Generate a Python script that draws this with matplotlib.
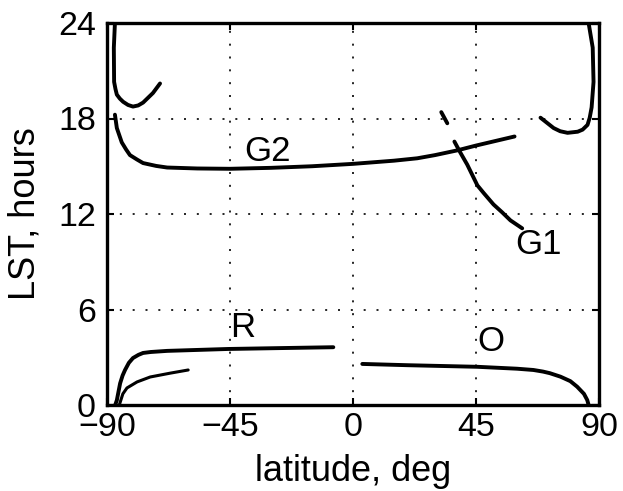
import matplotlib
matplotlib.use("Agg")
import matplotlib.pyplot as plt

plt.rcParams['font.family'] = ['Liberation Sans', 'DejaVu Sans']

# ---- data ----
g2_lat = [-87.1, -86.4, -85.6, -84.6, -83.0, -81.6, -79.0, -76.8, -72.0, -68, -57, -45, -30, -15, 0, 15, 23.5, 30, 38.2, 45, 59.1]
g2_lst = [18.24, 17.4, 17.0, 16.5, 16.05, 15.7, 15.42, 15.2, 15.02, 14.92, 14.86, 14.84, 14.9, 15.0, 15.15, 15.35, 15.5, 15.7, 16.0, 16.3, 16.87]

g1a_lat = [32.3, 34.5]
g1a_lst = [18.4, 17.7]
g1_lat = [37.1, 39.3, 41.8, 45.5, 47.9, 51.4, 54.6, 57.6, 61.9]
g1_lst = [16.55, 15.85, 15.1, 13.8, 13.3, 12.6, 12.1, 11.6, 11.1]

ul_lat = [-87.1, -87.5, -87.4, -86.9, -86.4, -85.3, -84.1, -82.3, -80.5, -78.6, -76.8, -73.2, -70.6]
ul_lst = [24.0, 22.45, 20.3, 19.85, 19.5, 19.25, 19.05, 18.85, 18.75, 18.82, 19.0, 19.6, 20.2]

ur_lat = [86.2, 87.7, 88.0, 87.3, 86.6, 85.8, 84.0, 82.2, 78.5, 75.8, 73.4, 68.6]
ur_lst = [24.0, 22.45, 20.3, 18.7, 18.05, 17.6, 17.3, 17.17, 17.1, 17.2, 17.4, 18.05]

r_lat = [-87.0, -86.4, -85.2, -84.3, -83.4, -82.0, -80.5, -78.5, -76.8, -74.0, -68, -45.7, -25, -7.2]
r_lst = [0.0, 0.3, 1.36, 1.85, 2.2, 2.65, 2.95, 3.15, 3.27, 3.33, 3.4, 3.52, 3.58, 3.63]

r2_lat = [-85.5, -84.2, -82.7, -79, -74.2, -66.9, -60.3]
r2_lst = [0.0, 0.7, 1.07, 1.45, 1.76, 2.0, 2.2]

o_lat = [3.4, 20, 45.5, 60, 66, 69.5, 72, 75.9, 79.5, 82.0, 84.5, 85.7, 86.2]
o_lst = [2.58, 2.5, 2.4, 2.28, 2.2, 2.1, 2.0, 1.78, 1.5, 1.15, 0.7, 0.31, 0.0]

labels = ["G2", "G1", "R", "O"]
label_lat = [-31.4, 67.9, -40.5, 50.3]
label_lst = [15.9, 10.06, 4.9, 3.96]

xticks = [-90, -45, 0, 45, 90]
yticks = [0, 6, 12, 18, 24]

# ---- figure ----
fig = plt.figure(figsize=(6.23, 4.91), dpi=100)
ax = fig.add_axes([107/623, 1 - 405/491, 492/623, 382/491])

lw = 2.8
for xs, ys, w in [(g2_lat, g2_lst, lw), (g1a_lat, g1a_lst, lw), (g1_lat, g1_lst, lw),
                  (ul_lat, ul_lst, lw), (ur_lat, ur_lst, lw), (r_lat, r_lst, lw),
                  (r2_lat, r2_lst, 2.2), (o_lat, o_lst, lw)]:
    ax.plot(xs, ys, color='black', lw=w, solid_capstyle='round', solid_joinstyle='round')

for t, x, y in zip(labels, label_lat, label_lst):
    ax.text(x, y, t, fontsize=25, ha='center', va='center', color='black')

ax.set_xlim(-90, 90)
ax.set_ylim(0, 24)
ax.set_xticks(xticks)
ax.set_yticks(yticks)
ax.tick_params(direction='in', length=5, width=1.5, labelsize=24.5,
               top=True, right=True, pad=5)
ax.tick_params(axis='y', pad=8)
ax.grid(True, color='black', linestyle=(0, (1.2, 6.5)), linewidth=1.2)
for s in ax.spines.values():
    s.set_linewidth(2.4)

ax.set_xlabel('latitude, deg', fontsize=26, labelpad=8)
ax.set_ylabel('LST, hours', fontsize=26)
ax.yaxis.set_label_coords(-0.132, 0.50)

fig.savefig('out.png', dpi=100)
